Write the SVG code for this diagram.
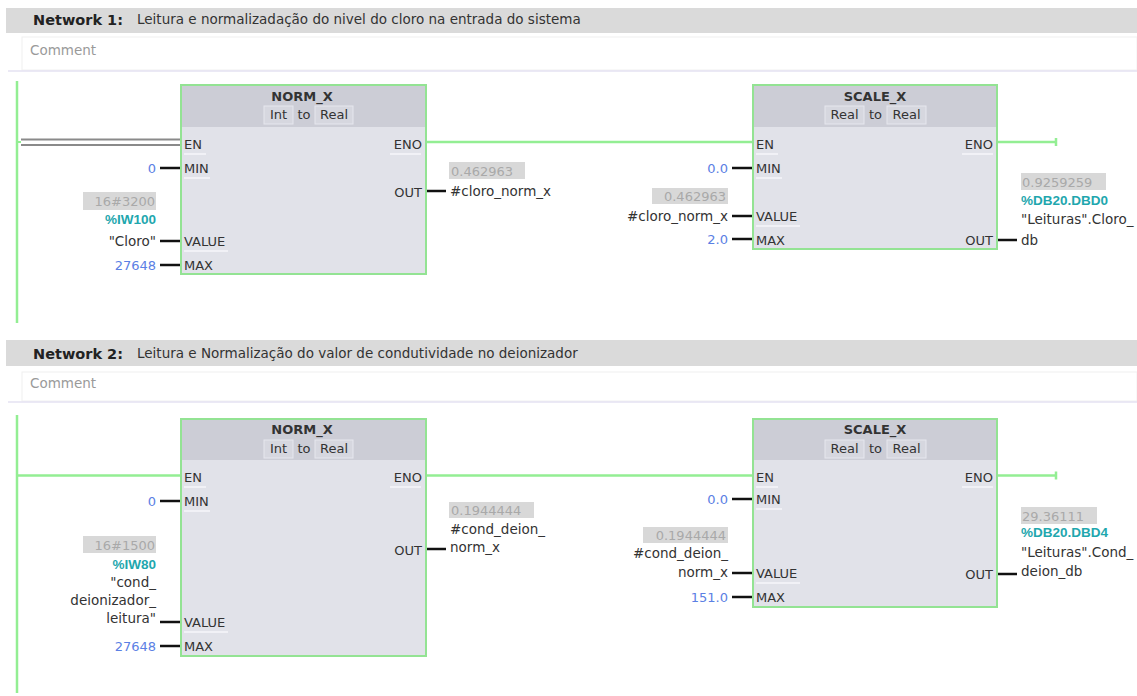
<svg xmlns="http://www.w3.org/2000/svg" width="1137" height="696" viewBox="0 0 1137 696">
<style>
text{font-family:"DejaVu Sans","Liberation Sans",sans-serif;}
.hdr{fill:#dadada;}
.nwt{font-size:14.5px;font-weight:bold;fill:#222;}
.nwd{font-size:13.5px;fill:#333;}
.cmt{font-size:13.5px;fill:#9a9a9a;}
.body{fill:#e1e2e9;stroke:#93e393;stroke-width:2;}
.bhead{fill:#cccdd6;}
.title{font-size:13px;font-weight:bold;fill:#333;text-anchor:middle;}
.tbox{fill:#d6d7df;stroke:#e6e7ee;stroke-width:1;}
.tt{font-size:13px;fill:#333;text-anchor:middle;}
.pin{font-size:13px;fill:#333;}
.pinr{font-size:13px;fill:#333;text-anchor:end;}
.ul{stroke:#f6f6fa;stroke-width:1.5;}
.const{font-size:13px;fill:#5b80e4;text-anchor:end;}
.var{font-size:13.5px;fill:#333;}
.varr{font-size:13.5px;fill:#333;text-anchor:end;}
.addr{font-family:"Liberation Sans",sans-serif;font-size:13.5px;font-weight:bold;fill:#1fa7ae;}
.addrr{font-family:"Liberation Sans",sans-serif;font-size:13.5px;font-weight:bold;fill:#1fa7ae;text-anchor:end;}
.vbox{fill:#d8d8d8;}
.val{font-size:13px;fill:#a9a9a9;}
.valr{font-size:13px;fill:#a9a9a9;text-anchor:end;}
.wire{stroke:#111;stroke-width:2.5;}
.pw{stroke:#93ee93;stroke-width:2.5;fill:none;}
</style>
<rect width="1137" height="696" fill="#fff"/>

<!-- Network 1 header -->
<g id="network1-header">
<rect class="hdr" x="6" y="8" width="1131" height="25"/>
<text class="nwt" x="33" y="25">Network 1:</text>
<text class="nwd" x="137" y="24">Leitura e normalizadação do nivel do cloro na entrada do sistema</text>
<rect x="22" y="37" width="1115" height="33" fill="#fff" stroke="#f0f0f0"/>
<text class="cmt" x="30" y="55">Comment</text>
<line x1="8" y1="71" x2="1137" y2="71" stroke="#e4e2f2" stroke-width="1.5"/>
</g>

<!-- Network 2 header -->
<g id="network2-header">
<rect class="hdr" x="6" y="340" width="1131" height="26"/>
<text class="nwt" x="33" y="359">Network 2:</text>
<text class="nwd" x="137" y="358">Leitura e Normalização do valor de condutividade no deionizador</text>
<rect x="22" y="372" width="1115" height="29" fill="#fff" stroke="#f0f0f0"/>
<text class="cmt" x="30" y="388">Comment</text>
<line x1="8" y1="402" x2="1137" y2="402" stroke="#e4e2f2" stroke-width="1.5"/>
</g>

<!-- Connectors -->
<g id="connectors">
<line class="pw" x1="17" y1="81" x2="17" y2="323"/>
<line class="pw" x1="17" y1="415" x2="17" y2="693"/>
<line x1="21" y1="139.5" x2="180" y2="139.5" stroke="#8a8a8a" stroke-width="1.8"/>
<line x1="21" y1="145" x2="180" y2="145" stroke="#8a8a8a" stroke-width="1.8"/>
<line x1="17" y1="142" x2="21" y2="142" stroke="#93ee93" stroke-width="2"/>
<line class="pw" x1="427" y1="142" x2="752" y2="142"/>
<line class="pw" x1="998" y1="142" x2="1056" y2="142"/>
<line class="pw" x1="1056" y1="138" x2="1056" y2="146" stroke-width="2"/>
<line class="wire" x1="160" y1="168" x2="180" y2="168"/>
<line class="wire" x1="160" y1="241" x2="180" y2="241"/>
<line class="wire" x1="160" y1="265" x2="180" y2="265"/>
<line class="wire" x1="427" y1="191" x2="446" y2="191"/>
<line class="wire" x1="732" y1="168" x2="752" y2="168"/>
<line class="wire" x1="732" y1="216" x2="752" y2="216"/>
<line class="wire" x1="732" y1="239" x2="752" y2="239"/>
<line class="wire" x1="998" y1="240" x2="1017" y2="240"/>
<line class="pw" x1="17" y1="475.5" x2="180" y2="475.5"/>
<line class="pw" x1="427" y1="475.5" x2="752" y2="475.5"/>
<line class="pw" x1="998" y1="475.5" x2="1056" y2="475.5"/>
<line class="pw" x1="1056" y1="471.5" x2="1056" y2="479.5" stroke-width="2"/>
<line class="wire" x1="160" y1="501" x2="180" y2="501"/>
<line class="wire" x1="160" y1="622" x2="180" y2="622"/>
<line class="wire" x1="160" y1="646" x2="180" y2="646"/>
<line class="wire" x1="427" y1="549" x2="446" y2="549"/>
<line class="wire" x1="732" y1="499" x2="752" y2="499"/>
<line class="wire" x1="732" y1="573" x2="752" y2="573"/>
<line class="wire" x1="732" y1="597" x2="752" y2="597"/>
<line class="wire" x1="998" y1="574" x2="1017" y2="574"/>
</g>

<!-- Network 1 NORM_X -->
<g id="n1-norm-x">
<rect class="body" x="181" y="85" width="245" height="189"/>
<rect class="bhead" x="182" y="86" width="243" height="41"/>
<text class="title" x="302" y="101">NORM_X</text>
<rect class="tbox" x="264" y="106" width="29" height="18"/>
<rect class="tbox" x="315" y="106" width="38" height="18"/>
<text class="tt" x="278.5" y="119">Int</text>
<text class="tt" x="304" y="119">to</text>
<text class="tt" x="334" y="119">Real</text>
<text class="pin" x="184" y="149">EN</text>
<line class="ul" x1="184" y1="154" x2="206" y2="154"/>
<text class="pin" x="184" y="173">MIN</text>
<line class="ul" x1="184" y1="178" x2="210" y2="178"/>
<text class="pin" x="184" y="246">VALUE</text>
<line class="ul" x1="184" y1="251" x2="228" y2="251"/>
<text class="pin" x="184" y="270">MAX</text>
<text class="pinr" x="422" y="149">ENO</text>
<line class="ul" x1="390" y1="154" x2="421" y2="154"/>
<text class="pinr" x="422" y="197">OUT</text>
</g>

<g id="n1-norm-in">
<text class="const" x="156" y="173">0</text>
<rect class="vbox" x="83" y="192" width="73" height="18"/>
<text class="valr" x="155" y="206">16#3200</text>
<text class="addrr" x="156" y="224">%IW100</text>
<text class="varr" x="156" y="246">"Cloro"</text>
<text class="const" x="156" y="270">27648</text>
</g>

<g id="n1-norm-out">
<rect class="vbox" x="449" y="162" width="76" height="17"/>
<text class="val" x="451" y="176">0.462963</text>
<text class="var" x="450" y="196">#cloro_norm_x</text>
</g>

<!-- Network 1 SCALE_X -->
<g id="n1-scale-x">
<rect class="body" x="753" y="85" width="244" height="164"/>
<rect class="bhead" x="754" y="86" width="242" height="41"/>
<text class="title" x="875" y="101">SCALE_X</text>
<rect class="tbox" x="825" y="106" width="39" height="18"/>
<rect class="tbox" x="887" y="106" width="39" height="18"/>
<text class="tt" x="844.5" y="119">Real</text>
<text class="tt" x="875.5" y="119">to</text>
<text class="tt" x="906.5" y="119">Real</text>
<text class="pin" x="756" y="149">EN</text>
<line class="ul" x1="756" y1="154" x2="778" y2="154"/>
<text class="pin" x="756" y="173">MIN</text>
<line class="ul" x1="756" y1="178" x2="782" y2="178"/>
<text class="pin" x="756" y="221">VALUE</text>
<line class="ul" x1="756" y1="226" x2="800" y2="226"/>
<text class="pin" x="756" y="245">MAX</text>
<text class="pinr" x="993" y="149">ENO</text>
<line class="ul" x1="962" y1="154" x2="993" y2="154"/>
<text class="pinr" x="993" y="245">OUT</text>
</g>

<g id="n1-scale-in">
<text class="const" x="728" y="173">0.0</text>
<rect class="vbox" x="652" y="188" width="76" height="16"/>
<text class="valr" x="726" y="201">0.462963</text>
<text class="varr" x="728" y="221">#cloro_norm_x</text>
<text class="const" x="728" y="244">2.0</text>
</g>

<g id="n1-scale-out">
<rect class="vbox" x="1021" y="173" width="85" height="17"/>
<text class="val" x="1022" y="187">0.9259259</text>
<text class="addr" x="1021" y="205">%DB20.DBD0</text>
<text class="var" x="1021" y="224">"Leituras".Cloro_</text>
<text class="var" x="1021" y="245">db</text>
</g>

<!-- Network 2 NORM_X -->
<g id="n2-norm-x">
<rect class="body" x="181" y="419" width="245" height="237"/>
<rect class="bhead" x="182" y="420" width="243" height="40"/>
<text class="title" x="302" y="434">NORM_X</text>
<rect class="tbox" x="264" y="440" width="29" height="18"/>
<rect class="tbox" x="315" y="440" width="38" height="18"/>
<text class="tt" x="278.5" y="453">Int</text>
<text class="tt" x="304" y="453">to</text>
<text class="tt" x="334" y="453">Real</text>
<text class="pin" x="184" y="482">EN</text>
<line class="ul" x1="184" y1="487" x2="206" y2="487"/>
<text class="pin" x="184" y="506">MIN</text>
<line class="ul" x1="184" y1="511" x2="210" y2="511"/>
<text class="pin" x="184" y="627">VALUE</text>
<line class="ul" x1="184" y1="632" x2="228" y2="632"/>
<text class="pin" x="184" y="651">MAX</text>
<text class="pinr" x="422" y="482">ENO</text>
<line class="ul" x1="390" y1="487" x2="421" y2="487"/>
<text class="pinr" x="422" y="555">OUT</text>
</g>

<g id="n2-norm-in">
<text class="const" x="156" y="506">0</text>
<rect class="vbox" x="83" y="536" width="73" height="17"/>
<text class="valr" x="155" y="550">16#1500</text>
<text class="addrr" x="156" y="569">%IW80</text>
<text class="varr" x="156" y="587">"cond_</text>
<text class="varr" x="156" y="605">deionizador_</text>
<text class="varr" x="156" y="623">leitura"</text>
<text class="const" x="156" y="651">27648</text>
</g>

<g id="n2-norm-out">
<rect class="vbox" x="449" y="502" width="85" height="16"/>
<text class="val" x="451" y="515">0.1944444</text>
<text class="var" x="450" y="534">#cond_deion_</text>
<text class="var" x="450" y="552">norm_x</text>
</g>

<!-- Network 2 SCALE_X -->
<g id="n2-scale-x">
<rect class="body" x="753" y="419" width="244" height="188"/>
<rect class="bhead" x="754" y="420" width="242" height="40"/>
<text class="title" x="875" y="434">SCALE_X</text>
<rect class="tbox" x="825" y="440" width="39" height="18"/>
<rect class="tbox" x="887" y="440" width="39" height="18"/>
<text class="tt" x="844.5" y="453">Real</text>
<text class="tt" x="875.5" y="453">to</text>
<text class="tt" x="906.5" y="453">Real</text>
<text class="pin" x="756" y="482">EN</text>
<line class="ul" x1="756" y1="487" x2="778" y2="487"/>
<text class="pin" x="756" y="504">MIN</text>
<line class="ul" x1="756" y1="509" x2="782" y2="509"/>
<text class="pin" x="756" y="578">VALUE</text>
<line class="ul" x1="756" y1="583" x2="800" y2="583"/>
<text class="pin" x="756" y="602">MAX</text>
<text class="pinr" x="993" y="482">ENO</text>
<line class="ul" x1="962" y1="487" x2="993" y2="487"/>
<text class="pinr" x="993" y="579">OUT</text>
</g>

<g id="n2-scale-in">
<text class="const" x="728" y="504">0.0</text>
<rect class="vbox" x="643" y="527" width="85" height="16"/>
<text class="valr" x="726" y="540">0.1944444</text>
<text class="varr" x="728" y="558">#cond_deion_</text>
<text class="varr" x="728" y="577">norm_x</text>
<text class="const" x="728" y="602">151.0</text>
</g>

<g id="n2-scale-out">
<rect class="vbox" x="1021" y="507" width="76" height="17"/>
<text class="val" x="1022" y="521">29.36111</text>
<text class="addr" x="1021" y="537">%DB20.DBD4</text>
<text class="var" x="1021" y="557">"Leituras".Cond_</text>
<text class="var" x="1021" y="576">deion_db</text>
</g>
</svg>
